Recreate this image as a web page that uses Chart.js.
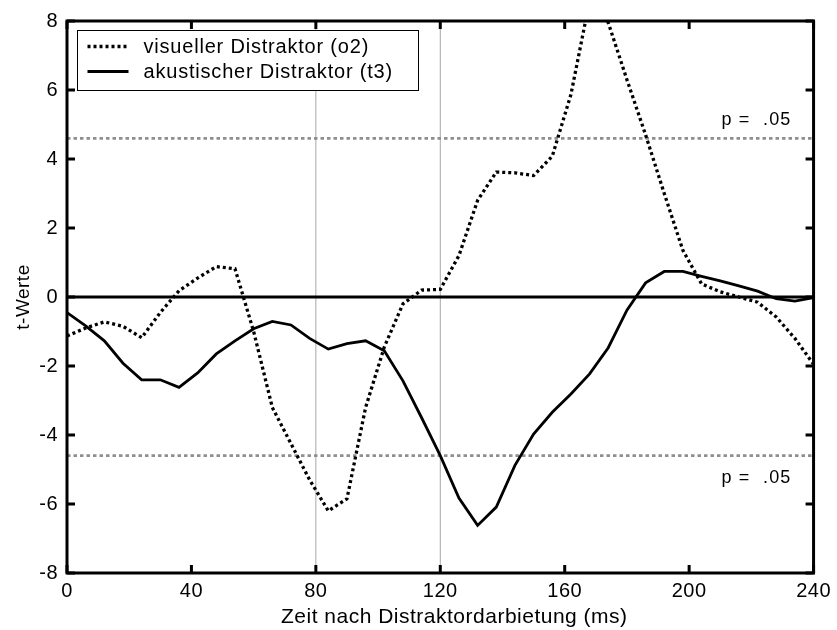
<!DOCTYPE html>
<html>
<head>
<meta charset="utf-8">
<script src="https://cdn.jsdelivr.net/npm/chart.js@4.4.1/dist/chart.umd.min.js"></script>
<style>
  html, body { margin: 0; padding: 0; background: #ffffff; }
  #wrap { width: 837px; height: 630px; position: relative; }
</style>
</head>
<body>
<div id="wrap"><canvas id="c" width="837" height="630"></canvas></div>
<script>
// ---- data ----
const timesMs = [0, 6, 12, 18, 24, 30, 36, 42, 48, 54, 60, 66, 72, 78, 84, 90, 96, 102, 108, 114, 120,
                 126, 132, 138, 144, 150, 156, 162, 168, 174, 180, 186, 192, 198, 204, 210, 216, 222, 228, 234, 240];
const visualT = [-1.13, -0.90, -0.72, -0.85, -1.18, -0.45, 0.18, 0.55, 0.88, 0.82, -1.00,
                 -3.20, -4.25, -5.30, -6.20, -5.85, -3.20, -1.45, -0.20, 0.20, 0.22,
                 1.20, 2.80, 3.62, 3.60, 3.52, 4.08, 5.87, 8.59, 7.95, 6.30,
                 4.70, 3.00, 1.35, 0.38, 0.15, 0.00, -0.15, -0.58, -1.20, -1.95];
const acousticT = [-0.45, -0.84, -1.27, -1.92, -2.40, -2.40, -2.62, -2.20, -1.65, -1.27, -0.92,
                   -0.71, -0.81, -1.20, -1.51, -1.35, -1.27, -1.56, -2.43, -3.50, -4.60,
                   -5.83, -6.62, -6.09, -4.88, -3.97, -3.34, -2.81, -2.23, -1.47, -0.38,
                   0.41, 0.74, 0.74, 0.60, 0.47, 0.32, 0.17, -0.05, -0.12, -0.02];
const seriesNames = ['visueller Distraktor (o2)', 'akustischer Distraktor (t3)'];
const thresholdT = 4.6;
const thresholdLabel = 'p =  .05';
const markerTimesMs = [80, 120];
const xTickValues = [0, 40, 80, 120, 160, 200, 240];
const yTickValues = [-8, -6, -4, -2, 0, 2, 4, 6, 8];
const xTitle = 'Zeit nach Distraktordarbietung (ms)';
const yTitle = 't-Werte';

// ---- build datasets ----
const toPts = (xs, ys) => xs.map((x, i) => ({ x: x, y: ys[i] }));
const xMin = xTickValues[0], xMax = xTickValues[xTickValues.length - 1];
const yMin = yTickValues[0], yMax = yTickValues[yTickValues.length - 1];

const FONT = '"Liberation Sans", Arial, Helvetica, sans-serif';
const SPACING = '0.5px';

const datasets = [
  { label: seriesNames[0], data: toPts(timesMs, visualT), borderColor: '#000', borderWidth: 3.3,
    borderDash: [3, 3], borderCapStyle: 'butt', pointRadius: 0, tension: 0, order: 1 },
  { label: seriesNames[1], data: toPts(timesMs, acousticT), borderColor: '#000', borderWidth: 2.8,
    pointRadius: 0, tension: 0, order: 0, borderJoinStyle: 'miter' },
  { label: 'zero', data: [{ x: xMin, y: 0 }, { x: xMax, y: 0 }], borderColor: '#000', borderWidth: 3,
    pointRadius: 0, order: 5 },
  { label: 'thr+', data: [{ x: xMin, y: thresholdT }, { x: xMax, y: thresholdT }], borderColor: '#8f8f8f',
    borderWidth: 2.8, borderDash: [3.5, 3], pointRadius: 0, order: 6 },
  { label: 'thr-', data: [{ x: xMin, y: -thresholdT }, { x: xMax, y: -thresholdT }], borderColor: '#8f8f8f',
    borderWidth: 2.8, borderDash: [3.5, 3], pointRadius: 0, order: 6 }
].concat(markerTimesMs.map(t => ({
  label: 'm' + t, data: [{ x: t, y: yMin }, { x: t, y: yMax }], borderColor: '#a8a8a8', borderWidth: 1,
  pointRadius: 0, order: 7
})));

const spacingPlugin = {
  id: 'spacing',
  beforeLayout(chart) { chart.ctx.letterSpacing = SPACING; },
  beforeDraw(chart) { chart.ctx.letterSpacing = SPACING; }
};

const framePlugin = {
  id: 'frame',
  afterDatasetsDraw(chart) {
    const ctx = chart.ctx, a = chart.chartArea;
    const xs = chart.scales.x, ys = chart.scales.y;
    ctx.save();
    // legend box
    const lx = a.left + 10.5, ly = a.top + 9.5, lw = 341, lh = 60;
    ctx.fillStyle = '#fff';
    ctx.fillRect(lx, ly, lw, lh);
    ctx.strokeStyle = '#000';
    ctx.lineWidth = 1;
    ctx.strokeRect(lx, ly, lw, lh);
    const rows = [ly + 16, ly + 41];
    ctx.lineWidth = 3.3; ctx.setLineDash([3, 3]); ctx.lineCap = 'butt';
    ctx.beginPath(); ctx.moveTo(lx + 10, rows[0]); ctx.lineTo(lx + 51, rows[0]); ctx.stroke();
    ctx.setLineDash([]); ctx.lineWidth = 2.8;
    ctx.beginPath(); ctx.moveTo(lx + 10, rows[1]); ctx.lineTo(lx + 51, rows[1]); ctx.stroke();
    ctx.fillStyle = '#000';
    ctx.font = '20px ' + FONT;
    ctx.letterSpacing = '0.8px';
    ctx.textAlign = 'left'; ctx.textBaseline = 'middle';
    ctx.fillText(seriesNames[0], lx + 66, rows[0] + 1);
    ctx.fillText(seriesNames[1], lx + 66, rows[1] + 1);
    // threshold labels
    ctx.font = '18px ' + FONT;
    ctx.letterSpacing = '1.2px';
    ctx.textAlign = 'right'; ctx.textBaseline = 'alphabetic';
    ctx.fillText(thresholdLabel, a.right - 22, ys.getPixelForValue(thresholdT) - 13);
    ctx.fillText(thresholdLabel, a.right - 22, ys.getPixelForValue(-thresholdT) + 27);
    // x axis title
    ctx.font = '21px ' + FONT;
    ctx.letterSpacing = SPACING;
    ctx.textAlign = 'center'; ctx.textBaseline = 'middle';
    ctx.fillText(xTitle, (a.left + a.right) / 2 + 14, chart.height - 13);
    // frame
    ctx.lineWidth = 3;
    ctx.strokeRect(a.left, a.top, a.right - a.left, a.bottom - a.top);
    // inward ticks
    const tl = 8;
    ctx.beginPath();
    xTickValues.forEach(v => {
      const px = xs.getPixelForValue(v);
      ctx.moveTo(px, a.bottom); ctx.lineTo(px, a.bottom - tl);
      ctx.moveTo(px, a.top); ctx.lineTo(px, a.top + tl);
    });
    yTickValues.forEach(v => {
      const py = ys.getPixelForValue(v);
      ctx.moveTo(a.left, py); ctx.lineTo(a.left + tl, py);
      ctx.moveTo(a.right, py); ctx.lineTo(a.right - tl, py);
    });
    ctx.stroke();
    ctx.restore();
    ctx.letterSpacing = SPACING;
  }
};

new Chart(document.getElementById('c'), {
  type: 'line',
  data: { datasets: datasets },
  options: {
    responsive: false,
    animation: false,
    events: [],
    layout: { padding: { top: 20, right: 22, bottom: 0, left: 0 } },
    plugins: { legend: { display: false }, tooltip: { enabled: false }, title: { display: false } },
    scales: {
      x: {
        type: 'linear', min: xMin, max: xMax,
        afterBuildTicks: s => { s.ticks = xTickValues.map(v => ({ value: v })); },
        afterFit: s => { s.height = 57; },
        grid: { display: false, drawTicks: false },
        border: { display: false },
        ticks: { color: '#000', font: { family: FONT, size: 20 }, padding: 6, maxRotation: 0, autoSkip: false },
        title: { display: false }
      },
      y: {
        type: 'linear', min: yMin, max: yMax,
        afterBuildTicks: s => { s.ticks = yTickValues.map(v => ({ value: v })); },
        afterFit: s => { s.width = 67; },
        grid: { display: false, drawTicks: false },
        border: { display: false },
        ticks: { color: '#000', font: { family: FONT, size: 20 }, padding: 9, autoSkip: false },
        title: { display: true, text: yTitle, color: '#000', font: { family: FONT, size: 19 }, padding: { top: 12, bottom: 0 } }
      }
    }
  },
  plugins: [spacingPlugin, framePlugin]
});
</script>
</body>
</html>
